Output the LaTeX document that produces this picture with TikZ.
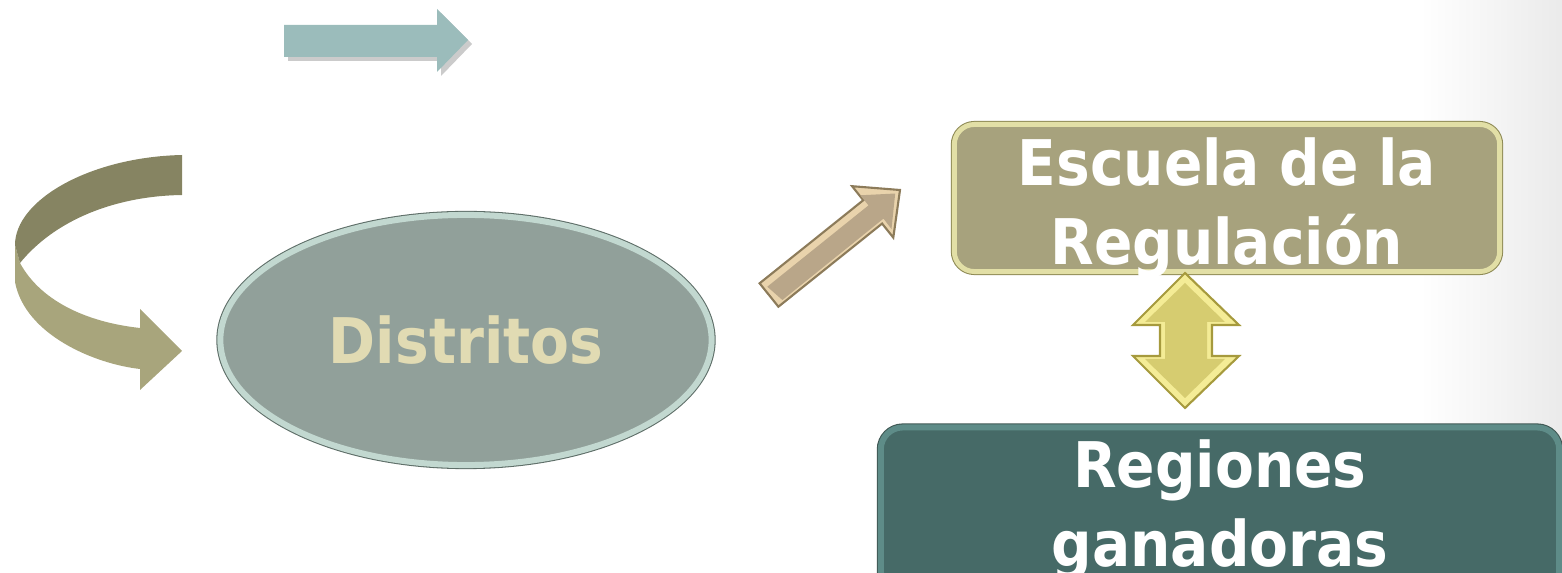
\documentclass[tikz,border=0pt]{standalone}
\usepackage{fontspec}
\setmainfont{DejaVu Sans Condensed}
\usetikzlibrary{shapes.geometric}
\definecolor{tealarrow}{HTML}{9BBCBB}
\definecolor{curvedark}{HTML}{868462}
\definecolor{curvelight}{HTML}{A8A57C}
\definecolor{distfill}{HTML}{91A09A}
\definecolor{distring}{HTML}{C2D8D0}
\definecolor{distline}{HTML}{5E6E68}
\definecolor{disttext}{HTML}{E1DBB3}
\definecolor{tanlight}{HTML}{E9D3AC}
\definecolor{tanmid}{HTML}{B9A689}
\definecolor{tanline}{HTML}{8C7B5A}
\definecolor{escfill}{HTML}{A7A27D}
\definecolor{escband}{HTML}{E2DFA6}
\definecolor{escline}{HTML}{8E8A55}
\definecolor{yellight}{HTML}{F4EC96}
\definecolor{yelmid}{HTML}{D6CC70}
\definecolor{yelline}{HTML}{A69A3D}
\definecolor{regfill}{HTML}{466A67}
\definecolor{regband}{HTML}{5E8C88}
\definecolor{regline}{HTML}{3E5652}

\begin{document}
\begin{tikzpicture}[x=0.01cm,y=-0.01cm,
    bigtext/.style={font=\bfseries\fontsize{17.9}{22.5}\selectfont, align=center, inner sep=0pt},
    ovalbox/.style={bigtext, ellipse, minimum width=4.91cm, minimum height=2.50cm,
        fill=distfill, draw=distring, line width=1.7pt,
        preaction={draw=distline, line width=2.3pt}, text=disttext},
    escbox/.style={bigtext, rectangle, rounded corners=0.2cm, minimum width=5.45cm,
        minimum height=1.47cm, fill=escfill, draw=escband, line width=1.4pt,
        preaction={draw=escline, line width=2pt}, text=white},
    regbox/.style={bigtext, rectangle, rounded corners=0.22cm, minimum width=6.78cm,
        minimum height=1.65cm, fill=regfill, draw=regband, line width=1.7pt,
        preaction={draw=regline, line width=2.3pt}, text=white}]
        \clip (0,0) rectangle (1562,573);
        \fill[left color=white, right color=black!8] (1420,0) rectangle (1562,573);
        % top arrow with its shadow
        \fill[black!45, opacity=.45, shift={(4,4)}] (284,25) -- (437,25) -- (437,9) -- (468,40) -- (437,72) -- (437,57) -- (284,57) -- cycle;
        \fill[tealarrow] (284,25) -- (437,25) -- (437,9) -- (468,40) -- (437,72) -- (437,57) -- (284,57) -- cycle;
        % curved arrow
        \fill[curvelight] (15,245) -- (15,282) .. controls (25,335) and (95,364) .. (140,369) -- (140,390) -- (182,351) -- (140,309) -- (140,328) .. controls (85,322) and (40,300) .. (20,263) -- cycle;
        \fill[curvedark] (182,155) .. controls (90,157) and (15,200) .. (15,245) -- (20,263) .. controls (55,220) and (115,196) .. (182,195) -- cycle;
        \node[ovalbox] (distritos) at (466,340) {Distritos};
        \node[escbox] (escuela) at (1227,198) {\raisebox{-0.26cm}[0.5cm][0.5cm]{\begin{tabular}{@{}c@{}}Escuela de la\\Regulación\end{tabular}}};
        \node[regbox] (regiones) at (1220,510) {Regiones\\ganadoras};
        % diagonal arrow
        \filldraw[fill=tanlight, draw=tanline, line width=0.6pt] (759.6,283.3) -- (863.3,200.2) -- (852.1,186.2) -- (900,190) -- (893.3,237.6) -- (882.1,223.6) -- (778.4,306.7) -- cycle;
        \fill[tanmid] (767.3,286.7) -- (868.5,205.4) -- (860.3,195.3) -- (895.2,193.5) -- (891.5,229.1) -- (883.5,218.6) -- (782.4,300.0) -- cycle;
        % double arrow
        \filldraw[fill=yellight, draw=yelline, line width=0.6pt] (1185,273) -- (1239,325) -- (1212,325) -- (1212,356) -- (1239,356) -- (1185,408) -- (1133,356) -- (1160,356) -- (1160,325) -- (1133,325) -- cycle;
        \fill[yelmid] (1185,283) -- (1225,322) -- (1207,322) -- (1207,359) -- (1225,359) -- (1185,398) -- (1145,359) -- (1165,359) -- (1165,322) -- (1145,322) -- cycle;
\end{tikzpicture}
\end{document}
